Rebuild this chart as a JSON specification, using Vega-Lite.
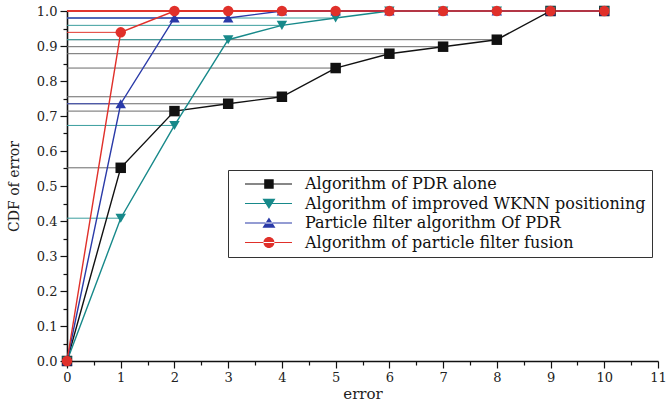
{
  "$schema": "https://vega.github.io/schema/vega-lite/v6.json",
  "width": 591,
  "height": 350,
  "autosize": {"type": "none"},
  "padding": {"left": 67, "top": 11, "right": 10, "bottom": 43},
  "background": "white",
  "config": {
    "view": {"stroke": null},
    "font": "DejaVu Serif"
  },
  "data": {
    "values": [
      {"error": 0, "cdf": 0, "series": "Algorithm of PDR alone"},
      {"error": 1, "cdf": 0.552, "series": "Algorithm of PDR alone"},
      {"error": 2, "cdf": 0.714, "series": "Algorithm of PDR alone"},
      {"error": 3, "cdf": 0.735, "series": "Algorithm of PDR alone"},
      {"error": 4, "cdf": 0.755, "series": "Algorithm of PDR alone"},
      {"error": 5, "cdf": 0.837, "series": "Algorithm of PDR alone"},
      {"error": 6, "cdf": 0.878, "series": "Algorithm of PDR alone"},
      {"error": 7, "cdf": 0.898, "series": "Algorithm of PDR alone"},
      {"error": 8, "cdf": 0.918, "series": "Algorithm of PDR alone"},
      {"error": 9, "cdf": 1.0, "series": "Algorithm of PDR alone"},
      {"error": 10, "cdf": 1.0, "series": "Algorithm of PDR alone"},
      {"error": 0, "cdf": 0, "series": "Algorithm of improved WKNN positioning"},
      {"error": 1, "cdf": 0.408, "series": "Algorithm of improved WKNN positioning"},
      {"error": 2, "cdf": 0.673, "series": "Algorithm of improved WKNN positioning"},
      {"error": 3, "cdf": 0.918, "series": "Algorithm of improved WKNN positioning"},
      {"error": 4, "cdf": 0.959, "series": "Algorithm of improved WKNN positioning"},
      {"error": 5, "cdf": 0.98, "series": "Algorithm of improved WKNN positioning"},
      {"error": 6, "cdf": 1.0, "series": "Algorithm of improved WKNN positioning"},
      {"error": 7, "cdf": 1.0, "series": "Algorithm of improved WKNN positioning"},
      {"error": 8, "cdf": 1.0, "series": "Algorithm of improved WKNN positioning"},
      {"error": 9, "cdf": 1.0, "series": "Algorithm of improved WKNN positioning"},
      {"error": 10, "cdf": 1.0, "series": "Algorithm of improved WKNN positioning"},
      {"error": 0, "cdf": 0, "series": "Particle filter algorithm Of  PDR"},
      {"error": 1, "cdf": 0.735, "series": "Particle filter algorithm Of  PDR"},
      {"error": 2, "cdf": 0.98, "series": "Particle filter algorithm Of  PDR"},
      {"error": 3, "cdf": 0.98, "series": "Particle filter algorithm Of  PDR"},
      {"error": 4, "cdf": 1.0, "series": "Particle filter algorithm Of  PDR"},
      {"error": 5, "cdf": 1.0, "series": "Particle filter algorithm Of  PDR"},
      {"error": 6, "cdf": 1.0, "series": "Particle filter algorithm Of  PDR"},
      {"error": 7, "cdf": 1.0, "series": "Particle filter algorithm Of  PDR"},
      {"error": 8, "cdf": 1.0, "series": "Particle filter algorithm Of  PDR"},
      {"error": 9, "cdf": 1.0, "series": "Particle filter algorithm Of  PDR"},
      {"error": 10, "cdf": 1.0, "series": "Particle filter algorithm Of  PDR"},
      {"error": 0, "cdf": 0, "series": "Algorithm of particle filter fusion"},
      {"error": 1, "cdf": 0.939, "series": "Algorithm of particle filter fusion"},
      {"error": 2, "cdf": 1.0, "series": "Algorithm of particle filter fusion"},
      {"error": 3, "cdf": 1.0, "series": "Algorithm of particle filter fusion"},
      {"error": 4, "cdf": 1.0, "series": "Algorithm of particle filter fusion"},
      {"error": 5, "cdf": 1.0, "series": "Algorithm of particle filter fusion"},
      {"error": 6, "cdf": 1.0, "series": "Algorithm of particle filter fusion"},
      {"error": 7, "cdf": 1.0, "series": "Algorithm of particle filter fusion"},
      {"error": 8, "cdf": 1.0, "series": "Algorithm of particle filter fusion"},
      {"error": 9, "cdf": 1.0, "series": "Algorithm of particle filter fusion"},
      {"error": 10, "cdf": 1.0, "series": "Algorithm of particle filter fusion"}
    ]
  },
  "resolve": {
    "scale": {"color": "independent", "shape": "independent"},
    "axis": {"x": "independent", "y": "independent"}
  },
  "layer": [
    {
      "mark": {"type": "rule", "strokeWidth": 1},
      "encoding": {
        "x": {"field": "error", "type": "quantitative",
          "scale": {"domain": [0, 11], "nice": false, "zero": false},
          "axis": {"orient": "bottom", "values": [0.5, 1.5, 2.5, 3.5, 4.5, 5.5, 6.5, 7.5, 8.5, 9.5, 10.5], "labels": false, "domain": false, "grid": false, "tickSize": 4, "tickColor": "#111", "tickWidth": 1.2, "title": null}},
        "x2": {"datum": 0},
        "y": {"field": "cdf", "type": "quantitative",
          "scale": {"domain": [0, 1], "nice": false, "zero": false},
          "axis": {"orient": "left", "values": [0.05, 0.15, 0.25, 0.35, 0.45, 0.55, 0.65, 0.75, 0.85, 0.95], "labels": false, "domain": false, "grid": false, "tickSize": 4, "tickColor": "#111", "tickWidth": 1.2, "title": null}},
        "color": {"field": "series", "type": "nominal", "legend": null,
          "scale": {"domain": ["Algorithm of PDR alone", "Algorithm of improved WKNN positioning", "Particle filter algorithm Of  PDR", "Algorithm of particle filter fusion"],
            "range": ["#6a6a6a", "#3a9e9e", "#3a48b0", "#e2372f"]}}
      }
    },
    {
      "mark": {"type": "line", "strokeWidth": 1.4},
      "encoding": {
        "x": {"field": "error", "type": "quantitative",
          "scale": {"domain": [0, 11], "nice": false, "zero": false},
          "axis": {"orient": "bottom", "values": [0, 1, 2, 3, 4, 5, 6, 7, 8, 9, 10, 11], "format": "d", "grid": false, "tickSize": 7, "tickColor": "#111", "tickWidth": 1.2, "domainColor": "#111", "domainWidth": 1.6, "labelFont": "DejaVu Serif", "labelFontSize": 13, "labelColor": "#222", "labelPadding": 3, "labelFlush": false, "title": "error", "titleFont": "DejaVu Serif", "titleFontSize": 15, "titleFontWeight": "normal", "titleColor": "#222", "titlePadding": 2}},
        "y": {"field": "cdf", "type": "quantitative",
          "scale": {"domain": [0, 1], "nice": false, "zero": false},
          "axis": {"orient": "left", "values": [0, 0.1, 0.2, 0.3, 0.4, 0.5, 0.6, 0.7, 0.8, 0.9, 1.0], "format": ".1f", "grid": false, "tickSize": 7, "tickColor": "#111", "tickWidth": 1.2, "domainColor": "#111", "domainWidth": 1.6, "labelFont": "DejaVu Serif", "labelFontSize": 13, "labelColor": "#222", "labelPadding": 3, "labelFlush": false, "title": "CDF of error", "titleFont": "DejaVu Serif", "titleFontSize": 14, "titleFontWeight": "normal", "titleColor": "#222", "titlePadding": 15}},
        "color": {"field": "series", "type": "nominal", "legend": null,
          "scale": {"domain": ["Algorithm of PDR alone", "Algorithm of improved WKNN positioning", "Particle filter algorithm Of  PDR", "Algorithm of particle filter fusion"],
            "range": ["#111111", "#17898a", "#2a3aa8", "#e0302a"]}}
      }
    },
    {
      "mark": {"type": "point", "filled": true, "opacity": 1, "size": 110, "strokeWidth": 0},
      "encoding": {
        "x": {"field": "error", "type": "quantitative", "axis": null},
        "y": {"field": "cdf", "type": "quantitative", "axis": null},
        "color": {"field": "series", "type": "nominal", "legend": null,
          "scale": {"domain": ["Algorithm of PDR alone", "Algorithm of improved WKNN positioning", "Particle filter algorithm Of  PDR", "Algorithm of particle filter fusion"],
            "range": ["#111111", "#17898a", "#2a3aa8", "#e0302a"]}},
        "shape": {"field": "series", "type": "nominal", "legend": null,
          "scale": {"domain": ["Algorithm of PDR alone", "Algorithm of improved WKNN positioning", "Particle filter algorithm Of  PDR", "Algorithm of particle filter fusion"],
            "range": ["square", "triangle-down", "triangle-up", "circle"]}}
      }
    },
    {
      "mark": {"type": "point", "filled": true, "opacity": 0, "size": 100},
      "encoding": {
        "x": {"field": "error", "type": "quantitative", "axis": null},
        "y": {"field": "cdf", "type": "quantitative", "axis": null},
        "color": {"field": "series", "type": "nominal",
          "scale": {"domain": ["Algorithm of PDR alone", "Algorithm of improved WKNN positioning", "Particle filter algorithm Of  PDR", "Algorithm of particle filter fusion"],
            "range": ["#111111", "#17898a", "#2a3aa8", "#e0302a"]},
          "legend": {"orient": "none", "legendX": 161, "legendY": 159, "title": null, "strokeColor": "#333", "fillColor": "white", "padding": 6, "labelFont": "DejaVu Serif", "labelFontSize": 16, "labelColor": "#111", "labelOffset": 55, "symbolSize": 100, "symbolOpacity": 1, "symbolStrokeWidth": 0, "rowPadding": 3.5, "labelLimit": 500}},
        "shape": {"field": "series", "type": "nominal",
          "scale": {"domain": ["Algorithm of PDR alone", "Algorithm of improved WKNN positioning", "Particle filter algorithm Of  PDR", "Algorithm of particle filter fusion"],
            "range": [
              "M0.6,-0.12H10V0.12H0.6Z M4.44,-0.95H6.34V0.95H4.44Z",
              "M0.6,-0.12H10V0.12H0.6Z M4.09,-0.95H6.69L5.39,1.1Z",
              "M0.6,-0.12H10V0.12H0.6Z M4.09,0.95H6.69L5.39,-1.1Z",
              "M0.6,-0.12H10V0.12H0.6Z M4.29,0A1.1,1.1,0,1,0,6.49,0A1.1,1.1,0,1,0,4.29,0Z"
            ]},
          "legend": {"orient": "none", "legendX": 161, "legendY": 159, "title": null, "strokeColor": "#333", "fillColor": "white", "padding": 6, "labelFont": "DejaVu Serif", "labelFontSize": 16, "labelColor": "#111", "labelOffset": 55, "symbolSize": 100, "symbolOpacity": 1, "symbolStrokeWidth": 0, "rowPadding": 3.5, "labelLimit": 500}}
      }
    }
  ]
}
